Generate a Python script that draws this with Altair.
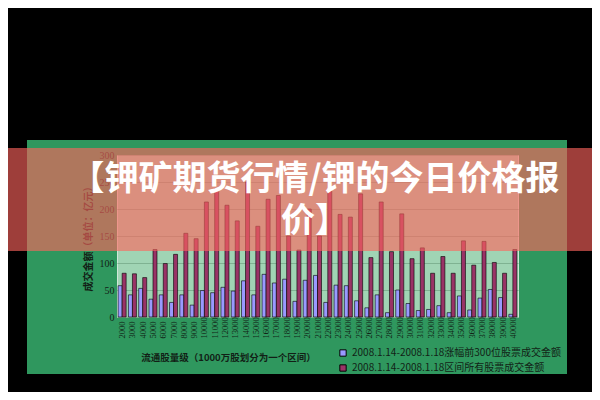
import altair as alt
import pandas as pd

categories = ["2000", "3000", "4000", "5000", "6000", "7000", "8000", "9000", "10000",
              "11000", "12000", "13000", "14000", "15000", "16000", "17000", "18000",
              "19000", "20000", "21000", "22000", "23000", "24000", "25000", "26000",
              "27000", "28000", "29000", "30000", "31000", "32000", "33000", "34000",
              "35000", "36000", "37000", "38000", "39000", "40000"]
top300 = [58, 41, 53, 33, 41, 27, 41, 22, 49, 45, 55, 48, 67, 41, 79, 63, 70, 29, 68, 77,
          27, 59, 58, 30, 17, 41, 8, 50, 25, 12, 14, 21, 8, 39, 13, 35, 51, 36, 5]
all_stocks = [81, 80, 73, 125, 99, 116, 155, 145, 213, 238, 207, 178, 250, 168, 218, 225,
              150, 124, 200, 150, 235, 190, 185, 228, 110, 213, 121, 191, 108, 128, 81, 112,
              81, 141, 96, 140, 101, 81, 125]
series_names = ["2008.1.14-2008.1.18涨幅前300位股票成交金额",
                "2008.1.14-2008.1.18区间所有股票成交金额"]
series_colors = ["#9999ff", "#993366"]
y_ticks = [0, 50, 100, 150, 200, 250, 300]
title_lines = ["【钾矿期货行情/钾的今日价格报", "价】"]
x_title = "流通股量级（1000万股划分为一个区间）"
y_title = "成交金额（单位：亿元）"

rows = []
for c, a, b in zip(categories, top300, all_stocks):
    rows.append({"cat": c, "series": series_names[0], "value": a})
    rows.append({"cat": c, "series": series_names[1], "value": b})
df = pd.DataFrame(rows)
dummy = pd.DataFrame({"k": [0]})

W, H = 401, 162
PL, PT = 109, 147
SVG_W, SVG_H = 584, 384
DARK = "#121f16"


def rect(x, x2, y, y2, color, opacity=1.0):
    return alt.Chart(dummy).mark_rect(color=color, opacity=opacity).encode(
        x=alt.value(x), x2=alt.value(x2), y=alt.value(y), y2=alt.value(y2))


black_top = rect(-PL, SVG_W - PL, -PT, -15, "#000000")
black_bottom = rect(-PL, SVG_W - PL, 219, SVG_H - PT, "#000000")
black_left = rect(-PL, -90, -PT, SVG_H - PT, "#000000")
black_right = rect(450, SVG_W - PL, -PT, SVG_H - PT, "#000000")

bars = alt.Chart(df).mark_bar(stroke="black", strokeWidth=0.6).encode(
    x=alt.X("cat:N", sort=categories,
            scale=alt.Scale(paddingInner=0.22, paddingOuter=0.11),
            axis=alt.Axis(title=x_title, labelAngle=270, labelAlign="left",
                          labelBaseline="middle", labelPadding=21, ticks=False,
                          tickSize=0, domain=False, grid=False, labelOverlap=False,
                          labelFont="Liberation Serif", labelFontSize=8.5,
                          labelColor=DARK, titleFont="Noto Sans CJK SC",
                          titleFontSize=9.5, titleFontWeight="bold", titleColor=DARK,
                          titleX=111, titleY=40, titleAlign="center",
                          titleBaseline="middle")),
    xOffset=alt.XOffset("series:N", sort=series_names),
    y=alt.Y("value:Q", scale=alt.Scale(domain=[0, 300], nice=False),
            axis=alt.Axis(values=y_ticks, title=y_title, ticks=False, domain=False,
                          labelPadding=3, labelFont="Liberation Serif",
                          labelFontSize=10, labelColor=DARK, gridColor="#7fb292",
                          titleFont="Noto Sans CJK SC", titleFontSize=10,
                          titleFontWeight="bold", titleColor=DARK, titleX=-29,
                          titleY=81, titleAngle=270, titleAlign="center",
                          titleBaseline="middle")),
    color=alt.Color("series:N", sort=series_names,
                    scale=alt.Scale(domain=series_names, range=series_colors),
                    legend=alt.Legend(orient="none", legendX=221, legendY=193,
                                      title=None, symbolType="square", symbolSize=40,
                                      symbolStrokeColor="black", symbolStrokeWidth=1,
                                      labelFont="Noto Sans CJK SC", labelFontSize=10,
                                      labelColor=DARK, rowPadding=3, labelLimit=400,
                                      padding=0)),
)

banner = rect(-PL, SVG_W - PL, -7, 96, "#ff645e", 0.62)

title1 = alt.Chart(dummy).mark_text(font="Noto Sans CJK SC", fontSize=34,
                                    fontWeight="bold", color="white",
                                    align="center", baseline="middle").encode(
    x=alt.value(198), y=alt.value(25), text=alt.value(title_lines[0]))
title2 = alt.Chart(dummy).mark_text(font="Noto Sans CJK SC", fontSize=34,
                                    fontWeight="bold", color="white",
                                    align="center", baseline="middle").encode(
    x=alt.value(198), y=alt.value(67), text=alt.value(title_lines[1]))

chart = alt.layer(black_top, black_bottom, black_left, black_right, bars, banner,
                  title1, title2).properties(
    width=W, height=H,
    autosize=alt.AutoSizeParams(type="none"),
    padding={"left": PL, "top": PT, "right": SVG_W - PL - W, "bottom": SVG_H - PT - H},
).configure(background="#2f975e").configure_view(fill="#a0d4b4", stroke="#cfe6d8")

chart.save("out.html", embed_options={"renderer": "svg", "actions": False})
